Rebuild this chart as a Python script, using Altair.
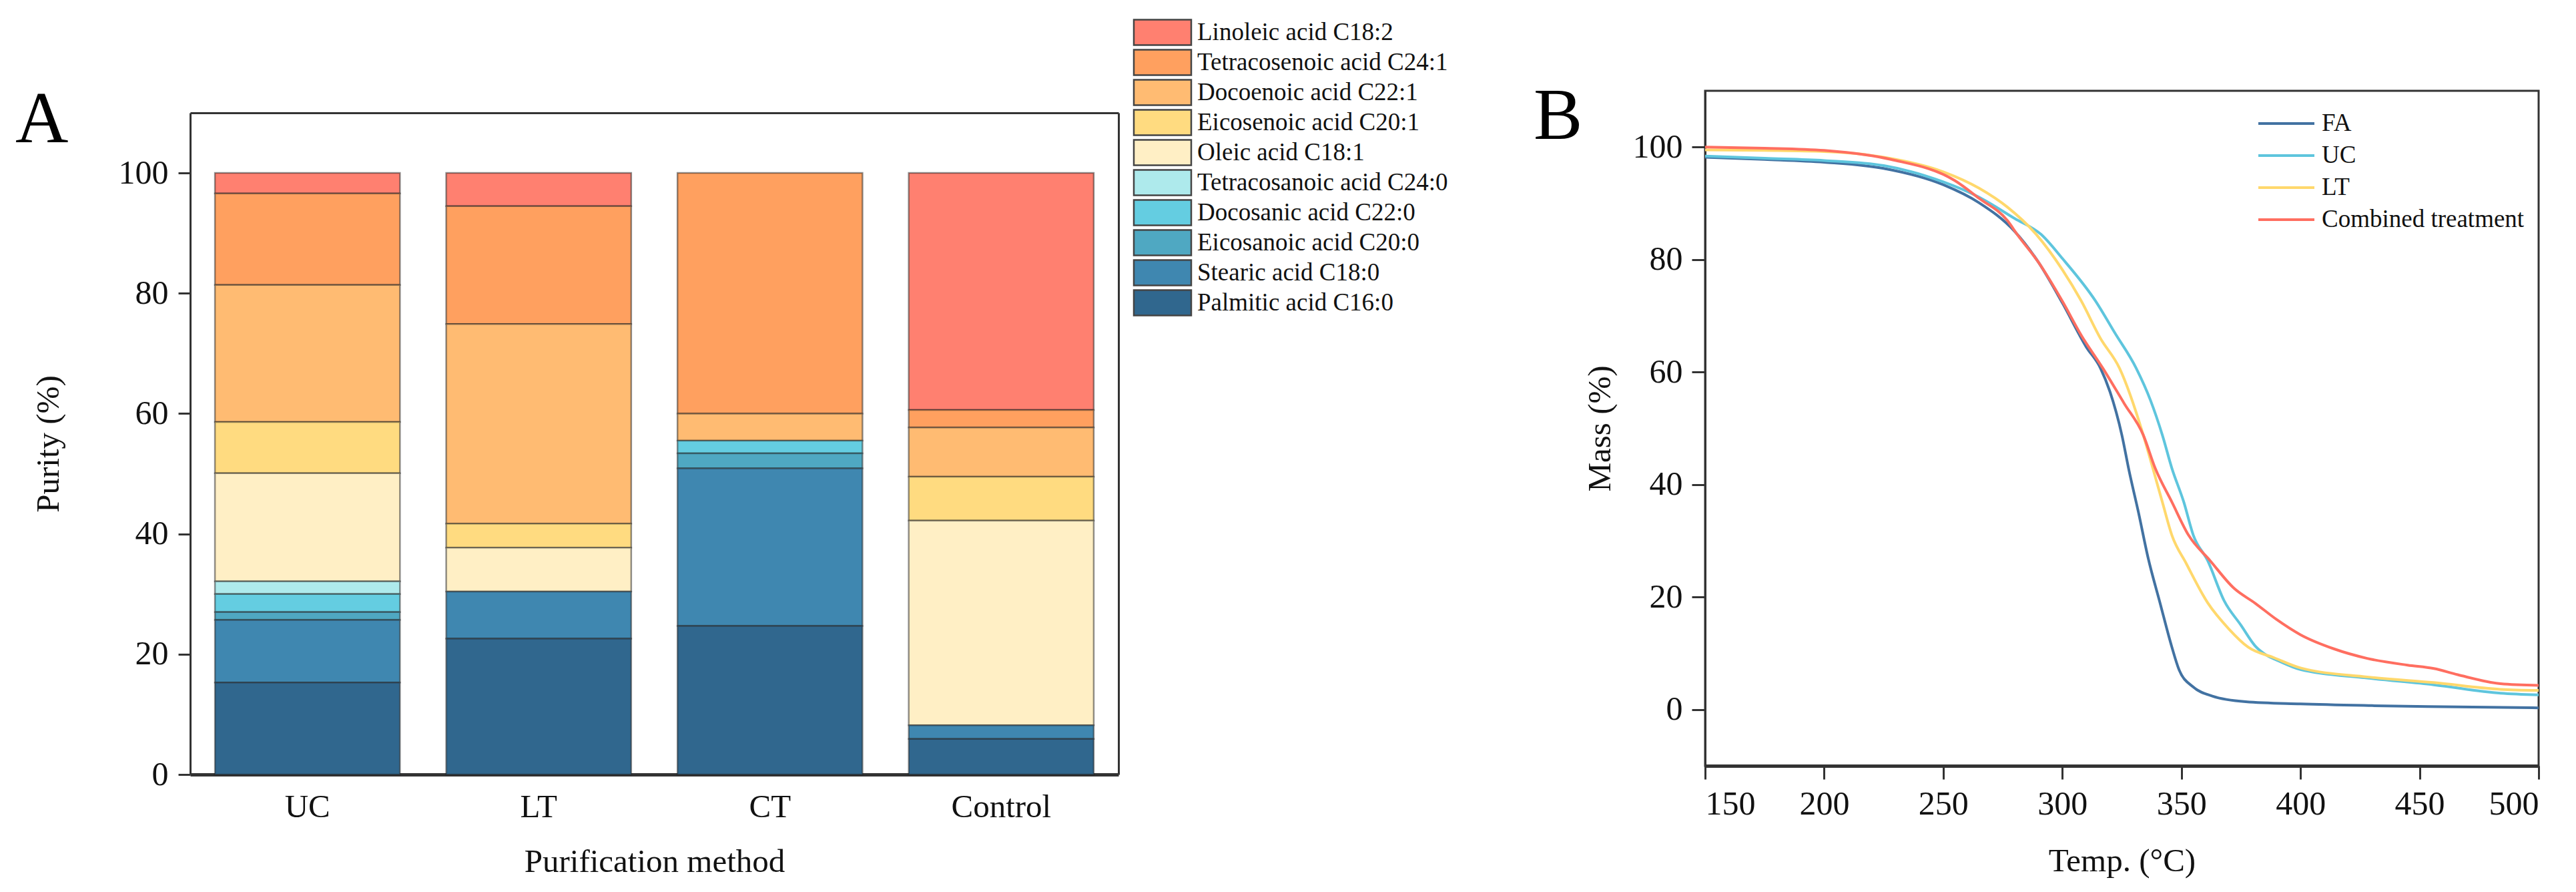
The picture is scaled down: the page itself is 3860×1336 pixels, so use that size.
import altair as alt
import pandas as pd

# ---------------- Panel A data ----------------
methods = ["UC", "LT", "CT", "Control"]
acids = [
    "Linoleic acid C18:2",
    "Tetracosenoic acid C24:1",
    "Docoenoic acid C22:1",
    "Eicosenoic acid C20:1",
    "Oleic acid C18:1",
    "Tetracosanoic acid C24:0",
    "Docosanic acid C22:0",
    "Eicosanoic acid C20:0",
    "Stearic acid C18:0",
    "Palmitic acid C16:0",
]
acid_colors = ["#FF8070", "#FFA05F", "#FFBB72", "#FFDB80", "#FFEFC5",
               "#AEEAEC", "#64CDE1", "#4FA8C2", "#3F87B0", "#30678E"]

# values per acid for UC, LT, CT, Control
linoleic = [3.4, 5.5, 0.0, 39.4]
tetracosenoic = [15.2, 19.6, 40.0, 2.9]
docoenoic = [22.8, 33.2, 4.5, 8.2]
eicosenoic = [8.5, 4.0, 0.0, 7.3]
oleic = [18.0, 7.3, 0.0, 34.0]
tetracosanoic = [2.1, 0.0, 0.0, 0.0]
docosanic = [3.0, 0.0, 2.1, 0.0]
eicosanoic = [1.3, 0.0, 2.5, 0.0]
stearic = [10.4, 7.8, 26.2, 2.3]
palmitic = [15.3, 22.6, 24.7, 5.9]
acid_values = [linoleic, tetracosenoic, docoenoic, eicosenoic, oleic,
               tetracosanoic, docosanic, eicosanoic, stearic, palmitic]

# ---------------- Panel B data ----------------
series = ["FA", "UC", "LT", "Combined treatment"]
series_colors = ["#4272A2", "#5EC5DD", "#FFD86C", "#FF6E60"]

temp_fa = [150, 175, 200, 225, 250, 265, 280, 290, 300, 310, 316, 320, 325, 328, 332,
           336, 341, 346, 349, 355, 363, 377, 400, 430, 460, 500]
mass_fa = [98.2, 97.8, 97.3, 96.2, 93.3, 90.1, 85.0, 79.5, 72.3, 64.5, 60.7, 56.5, 48.8,
           42.5, 35.0, 27.0, 19.0, 11.1, 7.1, 4.0, 2.4, 1.4, 1.0, 0.7, 0.5, 0.3]

temp_uc = [150, 175, 200, 225, 250, 265, 280, 291, 300, 314, 322, 331, 337, 342, 346,
           351, 355, 361, 368, 375, 381, 386, 390, 400, 428, 456, 484, 500]
mass_uc = [98.4, 98.0, 97.6, 96.7, 93.8, 91.1, 87.3, 84.5, 80.2, 72.6, 67.0, 60.7, 55.0,
           48.8, 42.9, 36.9, 31.0, 26.5, 19.3, 15.0, 11.3, 9.6, 8.8, 7.1, 5.6, 4.4, 2.9, 2.6]

temp_lt = [150, 175, 200, 225, 250, 265, 277, 289, 300, 308, 316, 324, 334, 338, 342,
           346, 352, 361, 370, 378, 389, 400, 428, 456, 484, 500]
mass_lt = [99.5, 99.4, 99.2, 98.2, 95.6, 92.7, 89.3, 84.5, 78.2, 72.6, 66.0, 60.7, 48.8,
           42.9, 36.9, 31.0, 26.0, 19.0, 14.3, 11.1, 9.2, 7.4, 5.8, 4.8, 3.6, 3.4]

temp_ct = [150, 175, 200, 228, 255, 265, 277, 281, 290, 300, 308, 317, 326, 334, 339,
           346, 353, 362, 372, 381, 390, 400, 414, 428, 445, 456, 466, 484, 500]
mass_ct = [100.0, 99.8, 99.4, 97.8, 94.0, 90.9, 86.9, 84.5, 79.5, 72.6, 66.5, 60.7, 54.4,
           48.8, 42.9, 36.9, 31.0, 26.5, 21.6, 18.9, 16.0, 13.3, 10.8, 9.1, 7.9, 7.3, 6.2,
           4.6, 4.3]

FONT = "Liberation Serif"

# ---------------- build tables ----------------
bar_rows = []
for i, (acid, vals) in enumerate(zip(acids, acid_values)):
    for m, v in zip(methods, vals):
        if v > 0:
            bar_rows.append({"method": m, "acid": acid, "value": v,
                             "order": len(acids) - 1 - i})
bar_df = pd.DataFrame(bar_rows)

line_rows = []
for name, ts, ms in zip(series, [temp_fa, temp_uc, temp_lt, temp_ct],
                        [mass_fa, mass_uc, mass_lt, mass_ct]):
    for t, m in zip(ts, ms):
        line_rows.append({"series": name, "temp": t, "mass": m})
line_df = pd.DataFrame(line_rows)

# ---------------- Panel A ----------------
A_W, A_H, A_TOP = 1391, 1024, 33
x_scale_a = alt.Scale(paddingInner=0.2, paddingOuter=0.107)
y_scale_a = alt.Scale(domain=[0, 110], nice=False, range=[A_H, A_TOP])

base_a = alt.Chart(bar_df)
bars = base_a.mark_bar(
    stroke="#222222", strokeOpacity=0.5, strokeWidth=2.5
).encode(
    x=alt.X("method:N", sort=methods, scale=x_scale_a,
            axis=alt.Axis(title="Purification method", labelAngle=0, ticks=False,
                          tickSize=0, domainWidth=5, labelPadding=24,
                          titlePadding=33, labelFontSize=49)),
    y=alt.Y("value:Q", stack="zero", scale=y_scale_a,
            axis=alt.Axis(title="Purity (%)", values=[0, 20, 40, 60, 80, 100],
                          tickSize=18, tickWidth=3, labelPadding=15,
                          titlePadding=80, domainWidth=3)),
    color=alt.Color("acid:N", scale=alt.Scale(domain=acids, range=acid_colors),
                    legend=alt.Legend(title=None, orient="none",
                                      legendX=1436.5, legendY=-108,
                                      symbolType="M-2.263,-1H2.263V1H-2.263Z",
                                      symbolSize=1444, symbolStrokeColor="#444444",
                                      symbolStrokeWidth=2.5, symbolOpacity=1,
                                      labelFontSize=37, labelOffset=31.5, labelLimit=0,
                                      rowPadding=-4.2, padding=0)),
    order=alt.Order("order:Q", sort="ascending"),
)
# frame: top and right edges drawn as domain-only axes
frame_a = base_a.mark_point(opacity=0).encode(
    x=alt.X("method:N", sort=methods, scale=x_scale_a,
            axis=alt.Axis(orient="top", title=None, labels=False, ticks=False,
                          domainWidth=3, offset=-A_TOP)),
    y=alt.Y("value:Q", scale=y_scale_a,
            axis=alt.Axis(orient="right", title=None, labels=False, ticks=False,
                          domainWidth=3)),
)
chart_a = alt.layer(bars, frame_a).resolve_axis(
    x="independent", y="independent"
).properties(
    width=A_W, height=A_H,
    title=alt.TitleParams(text="A", anchor="start", frame="group", orient="top",
                          dx=-262, offset=-208, fontSize=110, font=FONT,
                          fontWeight="normal", color="#000000"),
    view=alt.ViewBackground(stroke="transparent"),
)

# ---------------- Panel B ----------------
chart_b = alt.Chart(line_df).mark_line(strokeWidth=4, interpolate="monotone").encode(
    x=alt.X("temp:Q", scale=alt.Scale(domain=[150, 500], nice=False),
            axis=alt.Axis(title="Temp. (°C)", values=[150, 200, 250, 300, 350, 400, 450, 500],
                          tickSize=20, tickWidth=3, labelPadding=12, titlePadding=36,
                          domainWidth=5)),
    y=alt.Y("mass:Q", scale=alt.Scale(domain=[-10, 110], nice=False),
            axis=alt.Axis(title="Mass (%)", values=[0, 20, 40, 60, 80, 100],
                          tickSize=20, tickWidth=3, labelPadding=14, titlePadding=24,
                          domainWidth=3)),
    color=alt.Color("series:N", scale=alt.Scale(domain=series, range=series_colors),
                    legend=alt.Legend(title=None, orient="none", legendX=849, legendY=27,
                                      symbolType="M-2.1,0H2.1", symbolSize=1600,
                                      symbolStrokeWidth=4, labelFontSize=37, labelLimit=0,
                                      labelOffset=31, rowPadding=8, padding=0)),
).properties(
    width=1249, height=1011,
    title=alt.TitleParams(text="B", anchor="start", frame="group", orient="top",
                          dx=-257, offset=-95, fontSize=110, font=FONT,
                          fontWeight="normal", color="#000000"),
    view=alt.ViewBackground(stroke="#333333", strokeWidth=3),
)

chart = alt.hconcat(chart_a, chart_b, spacing=126).resolve_scale(
    color="independent"
).resolve_legend(color="independent").properties(
    padding={"left": 14, "top": 19, "right": 5, "bottom": 5}
).configure_axis(
    labelFont=FONT, titleFont=FONT, labelFontSize=50, titleFontSize=49,
    labelColor="#111111", titleColor="#111111", titleFontWeight="normal",
    domainColor="#333333", tickColor="#333333", grid=False,
).configure_legend(
    labelFont=FONT, labelColor="#111111",
).configure_view(stroke="transparent")

chart.save("out.html", embed_options={"renderer": "svg", "actions": False})
